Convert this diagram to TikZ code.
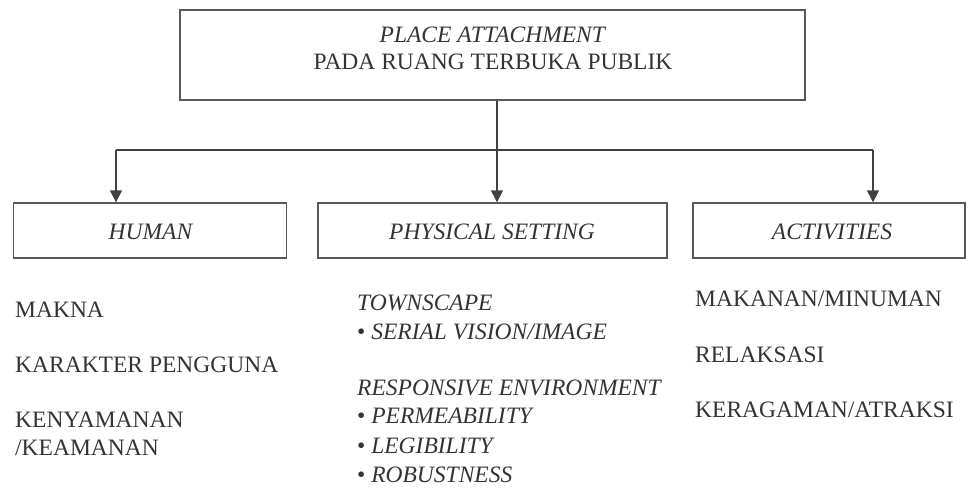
\documentclass[tikz,border=0pt]{standalone}
\usepackage{fontspec}
\setmainfont{Liberation Serif}
\usetikzlibrary{arrows.meta}
\begin{document}
\begin{tikzpicture}[x=1pt,y=-1pt,
  box/.style={draw=black!65,line width=1.4pt,rectangle,inner sep=0pt},
  lbl/.style={inner sep=0pt,anchor=base west,font=\fontsize{23.5}{27}\selectfont,text=black!80},
  clbl/.style={inner sep=0pt,anchor=base,font=\fontsize{23.5}{27}\selectfont,text=black!80},
  conn/.style={draw=black!75,line width=1.4pt},
  arr/.style={conn,-{Triangle[length=12pt,width=12pt]}}]
\useasboundingbox (0,0) rectangle (968,487);
% boxes
\node[box,minimum width=625pt,minimum height=90pt] (top) at (492.5,55) {};
\node[box,minimum width=273pt,minimum height=55pt] (human) at (150,230.5) {};
\node[box,minimum width=349pt,minimum height=55pt] (phys) at (492.5,230.5) {};
\node[box,minimum width=272pt,minimum height=55pt] (act) at (829,230.5) {};
% box texts
\node[clbl] (t1) at (493,43) {\textit{PLACE ATTACHMENT}};
\node[clbl] (t2) at (493,70) {PADA RUANG TERBUKA PUBLIK};
\node[clbl] (th) at (151,239) {\textit{HUMAN}};
\node[clbl] (tp) at (492,239) {\textit{PHYSICAL SETTING}};
\node[clbl] (ta) at (832,239) {\textit{ACTIVITIES}};
% connectors
\coordinate (hl) at (116,150);
\coordinate (hr) at (873,150);
\coordinate (hm) at (497,150);
\draw[conn] (hl) -- (hr);
\draw[arr] (top.south -| hm) -- (phys.north -| hm);
\draw[arr] (hl) -- (human.north -| hl);
\draw[arr] (hr) -- (act.north -| hr);
% left column
\node[lbl] (m1) at (15,317) {MAKNA};
\node[lbl] (m2) at (15,372) {KARAKTER PENGGUNA};
\node[lbl] (m3) at (15,427) {KENYAMANAN};
\node[lbl] (m4) at (15,455) {/KEAMANAN};
% middle column
\node[lbl] (p1) at (357,310) {\textit{TOWNSCAPE}};
\node[lbl] (p2) at (357,339) {\textbullet\ \textit{SERIAL VISION/IMAGE}};
\node[lbl] (p3) at (357,395) {\textit{RESPONSIVE ENVIRONMENT}};
\node[lbl] (p4) at (357,423) {\textbullet\ \textit{PERMEABILITY}};
\node[lbl] (p5) at (357,453) {\textbullet\ \textit{LEGIBILITY}};
\node[lbl] (p6) at (357,482) {\textbullet\ \textit{ROBUSTNESS}};
% right column
\node[lbl] (a1) at (695,306) {MAKANAN/MINUMAN};
\node[lbl] (a2) at (695,362) {RELAKSASI};
\node[lbl] (a3) at (695,417) {KERAGAMAN/ATRAKSI};
\end{tikzpicture}
\end{document}
